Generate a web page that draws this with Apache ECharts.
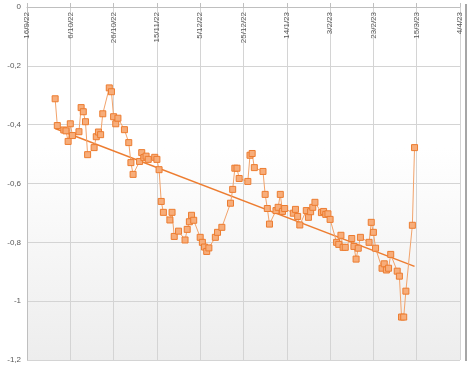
<!DOCTYPE html>
<html><head><meta charset="utf-8">
<script src="https://cdn.jsdelivr.net/npm/echarts@6/dist/echarts.min.js"></script>
<style>html,body{margin:0;padding:0;background:#fff}#c{width:469px;height:368px}</style>
</head><body><div id="c"></div>
<script>
const dates = ['2022-09-29','2022-09-30','2022-10-03','2022-10-04','2022-10-05','2022-10-06','2022-10-07',
'2022-10-10','2022-10-11','2022-10-12','2022-10-13','2022-10-14','2022-10-17','2022-10-18','2022-10-19','2022-10-20','2022-10-21',
'2022-10-24','2022-10-25','2022-10-26','2022-10-27','2022-10-28','2022-10-31','2022-11-02','2022-11-03','2022-11-04',
'2022-11-07','2022-11-08','2022-11-09','2022-11-10','2022-11-11','2022-11-14','2022-11-15','2022-11-16','2022-11-17','2022-11-18',
'2022-11-21','2022-11-22','2022-11-23','2022-11-25','2022-11-28','2022-11-29','2022-11-30','2022-12-01','2022-12-02',
'2022-12-05','2022-12-06','2022-12-07','2022-12-08','2022-12-09','2022-12-12','2022-12-13','2022-12-15',
'2022-12-19','2022-12-20','2022-12-21','2022-12-22','2022-12-23','2022-12-27','2022-12-28','2022-12-29','2022-12-30',
'2023-01-03','2023-01-04','2023-01-05','2023-01-06','2023-01-09','2023-01-10','2023-01-11','2023-01-12','2023-01-13',
'2023-01-17','2023-01-18','2023-01-19','2023-01-20','2023-01-23','2023-01-24','2023-01-25','2023-01-26','2023-01-27',
'2023-01-30','2023-01-31','2023-02-01','2023-02-02','2023-02-03','2023-02-06','2023-02-07','2023-02-08','2023-02-09','2023-02-10',
'2023-02-13','2023-02-14','2023-02-15','2023-02-16','2023-02-17','2023-02-21','2023-02-22','2023-02-23','2023-02-24',
'2023-02-27','2023-02-28','2023-03-01','2023-03-02','2023-03-03','2023-03-06','2023-03-07','2023-03-08','2023-03-09','2023-03-10',
'2023-03-13','2023-03-14'];
const values = [-0.312,-0.403,-0.418,-0.421,-0.457,-0.397,-0.437,
-0.424,-0.342,-0.356,-0.390,-0.502,-0.478,-0.441,-0.425,-0.434,-0.363,
-0.275,-0.288,-0.373,-0.397,-0.378,-0.417,-0.461,-0.529,-0.569,
-0.525,-0.495,-0.512,-0.507,-0.518,-0.511,-0.518,-0.553,-0.661,-0.698,
-0.724,-0.698,-0.780,-0.762,-0.792,-0.756,-0.730,-0.708,-0.725,
-0.783,-0.800,-0.816,-0.831,-0.819,-0.783,-0.766,-0.749,
-0.667,-0.620,-0.548,-0.548,-0.583,-0.593,-0.504,-0.498,-0.546,
-0.559,-0.637,-0.685,-0.738,-0.692,-0.681,-0.637,-0.695,-0.685,
-0.701,-0.688,-0.712,-0.741,-0.692,-0.715,-0.696,-0.681,-0.664,
-0.699,-0.695,-0.705,-0.703,-0.722,-0.800,-0.807,-0.776,-0.817,-0.817,
-0.787,-0.814,-0.857,-0.820,-0.783,-0.800,-0.732,-0.766,-0.820,
-0.888,-0.873,-0.894,-0.888,-0.841,-0.898,-0.915,-1.054,-1.054,-0.966,
-0.742,-0.478];
const xStart = '2022-09-16';
const xEnd = '2023-04-04';
const xStepDays = 20;
const yMin = -1.2, yMax = 0, yStep = 0.2;

const DAY = 86400000;
function ts(s){const p=s.split('-').map(Number);return Date.UTC(p[0],p[1]-1,p[2]);}
const pts = dates.map((d,i)=>[ts(d), values[i]]);
// linear trend (least squares)
const n = pts.length;
let sx=0,sy=0,sxx=0,sxy=0;
pts.forEach(([x,y])=>{const t=x/DAY;sx+=t;sy+=y;sxx+=t*t;sxy+=t*y;});
const slope=(n*sxy-sx*sy)/(n*sxx-sx*sx), icpt=(sy-slope*sx)/n;
const x0=pts[0][0], x1=pts[n-1][0];
const trend=[[x0, icpt+slope*x0/DAY],[x1, icpt+slope*x1/DAY]];

function fmtDate(v){const d=new Date(v);return d.getUTCDate()+'/'+(d.getUTCMonth()+1)+'/'+String(d.getUTCFullYear()).slice(2);}
const chart = echarts.init(document.getElementById('c'));
chart.setOption({
  animation:false,
  backgroundColor:'#ffffff',
  grid:{left:27,right:9,top:7,bottom:8,show:true,borderWidth:0,
    backgroundColor:new echarts.graphic.LinearGradient(0,0,0,1,[{offset:0,color:'#ffffff'},{offset:0.4,color:'#ffffff'},{offset:1,color:'#ededed'}])},
  xAxis:{type:'value',position:'top',min:ts(xStart),max:ts(xEnd),interval:xStepDays*DAY,
    axisLine:{show:true,lineStyle:{color:'#bfbfbf',width:1}},
    axisTick:{show:true,inside:false,length:4,lineStyle:{color:'#bfbfbf'}},
    splitLine:{show:true,lineStyle:{color:'#d4d4d4',width:1}},
    axisLabel:{inside:true,rotate:90,margin:5,fontSize:8,color:'#595959',fontFamily:'Liberation Sans',
      showMinLabel:true,showMaxLabel:true,formatter:fmtDate}},
  yAxis:{type:'value',min:yMin,max:yMax,interval:yStep,
    axisLine:{show:true,lineStyle:{color:'#bfbfbf',width:1}},
    axisTick:{show:false},
    splitLine:{show:true,lineStyle:{color:'#d4d4d4',width:1}},
    axisLabel:{margin:6,fontSize:8,color:'#595959',fontFamily:'Liberation Sans',
      formatter:v=>String(Math.round(v*10)/10).replace('.',',')}},
  series:[
    {type:'line',data:pts,symbol:'rect',symbolSize:6,showSymbol:true,
     lineStyle:{color:'#f2a36b',width:1},
     itemStyle:{color:'#f7ad7a',borderColor:'#ec7c30',borderWidth:1},z:3},
    {type:'line',data:trend,symbol:'none',lineStyle:{color:'#ed7d31',width:1.5},z:2}
  ],
  graphic:[{type:'rect',shape:{x:465,y:4,width:2,height:357},style:{fill:'#a6a6a6'},silent:true}]
});
</script></body></html>
